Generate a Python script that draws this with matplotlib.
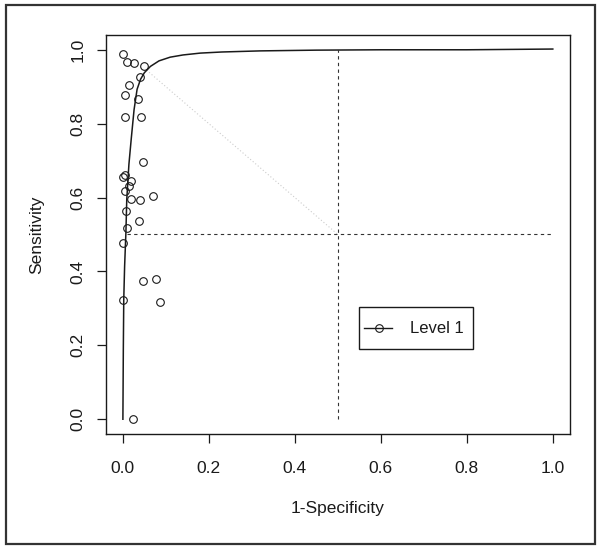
import matplotlib
matplotlib.use("Agg")
import matplotlib.pyplot as plt
from matplotlib.patches import Rectangle

plt.rcParams['font.family'] = ['Liberation Sans', 'DejaVu Sans']

# Study points (1-Specificity, Sensitivity)
fpr = [0.001, 0.009, 0.026, 0.049, 0.039, 0.014, 0.004, 0.035, 0.006, 0.043,
       0.047, 0.004, 0.000, 0.019, 0.015, 0.004, 0.070, 0.020, 0.040, 0.007,
       0.037, 0.009, 0.000, 0.047, 0.078, 0.000, 0.086, 0.024]
sens = [0.988, 0.968, 0.964, 0.955, 0.925, 0.904, 0.878, 0.868, 0.817, 0.817,
        0.695, 0.662, 0.655, 0.645, 0.632, 0.619, 0.605, 0.597, 0.593, 0.563,
        0.537, 0.518, 0.478, 0.375, 0.380, 0.324, 0.317, 0.000]

# SROC curve
curve_x = [0.000, 0.001, 0.002, 0.004, 0.007, 0.009, 0.014, 0.0195, 0.026, 0.033,
           0.041, 0.050, 0.064, 0.084, 0.110, 0.140, 0.180, 0.230, 0.320, 0.450,
           0.600, 0.800, 1.000]
curve_y = [0.000, 0.190, 0.324, 0.414, 0.505, 0.595, 0.690, 0.760, 0.838, 0.893,
           0.920, 0.938, 0.955, 0.970, 0.980, 0.986, 0.991, 0.994, 0.997, 0.999,
           1.000, 1.000, 1.002]

xticks = [0.0, 0.2, 0.4, 0.6, 0.8, 1.0]
yticks = [0.0, 0.2, 0.4, 0.6, 0.8, 1.0]
legend_label = "Level 1"

fig = plt.figure(figsize=(6.0, 5.49), dpi=100)
ax = fig.add_axes([105.7/600, 1-434/549, (570-105.7)/600, (434-35)/549])
ax.set_xlim(-0.04, 1.04)
ax.set_ylim(-0.04, 1.04)

ink = '#1a1a1a'
# reference lines
ax.plot([0.5, 0.5], [0.0, 1.0], ls=(0, (3, 3)), color='#333333', lw=0.8)
ax.plot([0.010, 1.0], [0.5, 0.5], ls=(0, (3, 3)), color='#333333', lw=0.8)
ax.plot([0.055, 0.5], [0.945, 0.5], ls=(0, (1, 2)), color='#cccccc', lw=0.8)

ax.plot(curve_x, curve_y, color=ink, lw=1.1)
ax.plot(fpr, sens, ls='none', marker='o', ms=5.5, mfc='none', mec=ink, mew=0.8)

# legend box
ax.add_patch(Rectangle((0.549, 0.191), 0.814-0.549, 0.3035-0.191, fill=False, ec=ink, lw=1.0))
ax.plot([0.560, 0.627], [0.246, 0.246], color=ink, lw=1.0)
ax.plot([0.595], [0.246], ls='none', marker='o', ms=5.5, mfc='none', mec=ink, mew=0.8)
ax.text(0.667, 0.246, legend_label, fontsize=12, va='center', ha='left', color=ink)

ax.set_xticks(xticks)
ax.set_yticks(yticks)
ax.set_xticklabels([f"{t:.1f}" for t in xticks])
ax.set_yticklabels([f"{t:.1f}" for t in yticks], rotation=90, va='center')
ax.tick_params(axis='x', length=6.5, width=0.9, pad=13, labelsize=12.5, colors=ink)
ax.tick_params(axis='y', length=6.5, width=0.9, pad=8, labelsize=12.5, colors=ink)
for s in ax.spines.values():
    s.set_linewidth(1.0)
    s.set_color(ink)

fig.text(338/600, 1-508/549, "1-Specificity", ha='center', va='center', fontsize=12.5, color=ink)
fig.text(37/600, 1-234.5/549, "Sensitivity", ha='center', va='center', rotation=90, fontsize=12.5, color=ink)

fig.patches.append(Rectangle((6/600, 1-544/549), (595-6)/600, (544-4.5)/549,
                             transform=fig.transFigure, fill=False, lw=1.6, ec='#333333'))

fig.savefig("out.png", dpi=100)
